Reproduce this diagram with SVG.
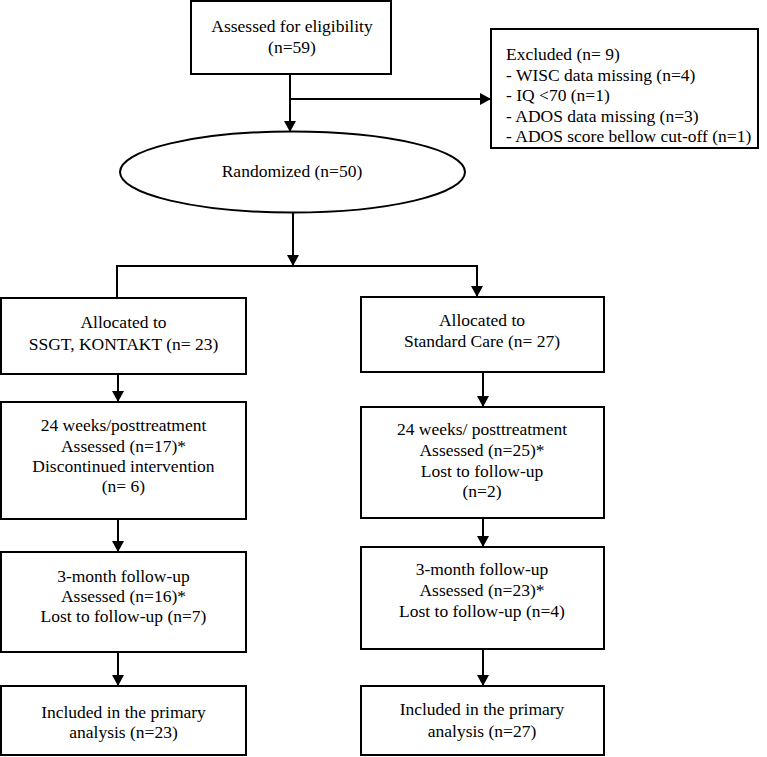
<svg xmlns="http://www.w3.org/2000/svg" width="767" height="757" viewBox="0 0 767 757">
<style>
.box{fill:#fff;stroke:#000;stroke-width:2}
.t{font-family:"Liberation Serif","Times New Roman",serif;font-size:17.5px;fill:#000;text-anchor:middle}
.tl{font-family:"Liberation Serif","Times New Roman",serif;font-size:17.5px;fill:#000}
.c{fill:none;stroke:#000;stroke-width:2}
</style>
<defs>
<marker id="ah" markerUnits="userSpaceOnUse" markerWidth="12" markerHeight="12" refX="11" refY="6" orient="auto">
<path d="M0,0 L11,6 L0,12 z" fill="#000"/>
</marker>
</defs>
<rect width="767" height="757" fill="#fff"/>
<g id="connectors">
<path class="c" d="M290,74 V132" marker-end="url(#ah)"/>
<path class="c" d="M290,99 H491" marker-end="url(#ah)"/>
<path class="c" d="M293,213 V266" marker-end="url(#ah)"/>
<path class="c" d="M117,298 V266 H477 V297" marker-end="url(#ah)"/>
<path class="c" d="M118,374 V402" marker-end="url(#ah)"/>
<path class="c" d="M118,519 V552" marker-end="url(#ah)"/>
<path class="c" d="M118,652 V686" marker-end="url(#ah)"/>
<path class="c" d="M483,372 V407" marker-end="url(#ah)"/>
<path class="c" d="M483,518 V547" marker-end="url(#ah)"/>
<path class="c" d="M483,649 V686" marker-end="url(#ah)"/>
</g>
<g id="assessed">
<rect class="box" x="191" y="1" width="200" height="73"/>
<text class="t" x="292" y="32">Assessed for eligibility</text>
<text class="t" x="292" y="53">(n=59)</text>
</g>
<g id="excluded">
<rect class="box" x="491" y="29" width="267" height="119"/>
<text class="tl" x="506" y="60">Excluded (n= 9)</text>
<text class="tl" x="506" y="80.5">- WISC data missing (n=4)</text>
<text class="tl" x="506" y="101">- IQ &lt;70 (n=1)</text>
<text class="tl" x="506" y="121.5">- ADOS data missing (n=3)</text>
<text class="tl" x="506" y="142">- ADOS score bellow cut-off (n=1)</text>
</g>
<g id="randomized">
<ellipse class="box" cx="292.5" cy="172" rx="172.5" ry="40.5"/>
<text class="t" x="292" y="177">Randomized (n=50)</text>
</g>
<g id="alloc-ssgt">
<rect class="box" x="1" y="298" width="245" height="76"/>
<text class="t" x="123.5" y="328">Allocated to</text>
<text class="t" x="123.5" y="350">SSGT, KONTAKT (n= 23)</text>
</g>
<g id="alloc-standard">
<rect class="box" x="361" y="297" width="243" height="75"/>
<text class="t" x="482" y="326">Allocated to</text>
<text class="t" x="482" y="347">Standard Care (n= 27)</text>
</g>
<g id="post-ssgt">
<rect class="box" x="1" y="402" width="245" height="117"/>
<text class="t" x="123.5" y="431">24 weeks/posttreatment</text>
<text class="t" x="123.5" y="452">Assessed (n=17)*</text>
<text class="t" x="123.5" y="472">Discontinued intervention</text>
<text class="t" x="123.5" y="492">(n= 6)</text>
</g>
<g id="post-standard">
<rect class="box" x="361" y="407" width="243" height="111"/>
<text class="t" x="482" y="435">24 weeks/ posttreatment</text>
<text class="t" x="482" y="456">Assessed (n=25)*</text>
<text class="t" x="482" y="477">Lost to follow-up</text>
<text class="t" x="482" y="497">(n=2)</text>
</g>
<g id="fu-ssgt">
<rect class="box" x="1" y="552" width="245" height="100"/>
<text class="t" x="123.5" y="582">3-month follow-up</text>
<text class="t" x="123.5" y="602">Assessed (n=16)*</text>
<text class="t" x="123.5" y="622">Lost to follow-up (n=7)</text>
</g>
<g id="fu-standard">
<rect class="box" x="361" y="547" width="243" height="102"/>
<text class="t" x="482" y="575">3-month follow-up</text>
<text class="t" x="482" y="596">Assessed (n=23)*</text>
<text class="t" x="482" y="617">Lost to follow-up (n=4)</text>
</g>
<g id="incl-ssgt">
<rect class="box" x="1" y="686" width="245" height="69"/>
<text class="t" x="123.5" y="718">Included in the primary</text>
<text class="t" x="123.5" y="738">analysis (n=23)</text>
</g>
<g id="incl-standard">
<rect class="box" x="361" y="686" width="243" height="69"/>
<text class="t" x="482" y="715">Included in the primary</text>
<text class="t" x="482" y="737">analysis (n=27)</text>
</g>
</svg>
